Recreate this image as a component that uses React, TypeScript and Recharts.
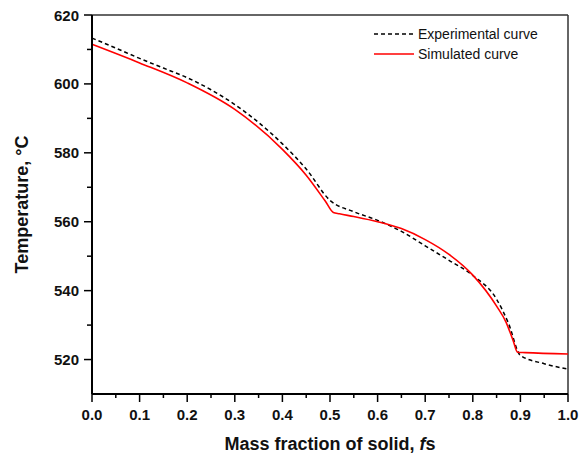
import { LineChart, Line, XAxis, YAxis, ReferenceLine, Legend } from 'recharts'

// experimental cooling curve (dashed)
const expFrac = [0, 0.05, 0.1, 0.15, 0.2, 0.25, 0.3, 0.35, 0.4, 0.45, 0.5, 0.55, 0.6, 0.65, 0.7, 0.75, 0.8, 0.85, 0.875, 0.9, 0.95, 1.0]
const expTemp = [613.3, 610.4, 607.4, 604.6, 601.8, 598.3, 594.0, 588.8, 582.6, 575.3, 566.2, 562.9, 560.4, 557.2, 553.0, 548.8, 544.4, 537.5, 530.5, 521.2, 518.8, 517.2]

// simulated curve (red)
const simFrac = [0, 0.1, 0.2, 0.3, 0.4, 0.45, 0.49, 0.507, 0.52, 0.55, 0.6, 0.65, 0.7, 0.75, 0.8, 0.85, 0.87, 0.885, 0.894, 0.91, 1.0]
const simTemp = [611.5, 606.1, 600.3, 592.6, 581.0, 573.5, 566.0, 562.7, 562.3, 561.5, 560.0, 558.0, 554.8, 550.5, 544.5, 535.5, 530.8, 525.4, 522.1, 522.0, 521.6]

const xTicks = [0, 0.05, 0.1, 0.15, 0.2, 0.25, 0.3, 0.35, 0.4, 0.45, 0.5, 0.55, 0.6, 0.65, 0.7, 0.75, 0.8, 0.85, 0.9, 0.95, 1.0]
const yTicks = [520, 530, 540, 550, 560, 570, 580, 590, 600, 610, 620]

const expData = expFrac.map((f, i) => ({ f, t: expTemp[i] }))
const simData = simFrac.map((f, i) => ({ f, t: simTemp[i] }))

const font = 'Arial, "Liberation Sans", sans-serif'

function XTick({ x, y, payload }: any) {
  const v = payload.value
  const major = Math.round(v * 100) % 10 === 0
  return (
    <g>
      <line x1={x} y1={y} x2={x} y2={y + (major ? 8 : 4)} stroke="#000" strokeWidth={1.5} />
      {major && (
        <text x={x} y={y + 26} textAnchor="middle" fontSize={15} fontWeight="bold" fontFamily={font} fill="#111">
          {v.toFixed(1)}
        </text>
      )}
    </g>
  )
}

function YTick({ x, y, payload }: any) {
  const v = payload.value
  const major = (v - 520) % 20 === 0
  return (
    <g>
      <line x1={x - (major ? 8 : 5)} y1={y} x2={x} y2={y} stroke="#000" strokeWidth={1.5} />
      {major && (
        <text x={x - 13} y={y + 5.5} textAnchor="end" fontSize={15} fontWeight="bold" fontFamily={font} fill="#111">
          {v}
        </text>
      )}
    </g>
  )
}

function LegendBox() {
  const row = (dash: string | undefined, color: string, label: string) => (
    <div style={{ display: 'flex', alignItems: 'center', height: 20 }}>
      <svg width={42} height={10} style={{ marginRight: 3 }}>
        <line x1={1} y1={5} x2={41} y2={5} stroke={color} strokeWidth={1.5} strokeDasharray={dash} />
      </svg>
      <span>{label}</span>
    </div>
  )
  return (
    <div style={{ fontFamily: font, fontSize: 14, color: '#111', lineHeight: '20px' }}>
      {row('4 3', '#000', 'Experimental curve')}
      {row(undefined, '#ff0000', 'Simulated curve')}
    </div>
  )
}

export default function App() {
  return (
    <div style={{ position: 'absolute', left: 0, top: 0, background: '#fff' }}>
      <LineChart width={582} height={457} margin={{ top: 15, right: 14, bottom: 0, left: 0 }}>
        <XAxis
          dataKey="f"
          type="number"
          domain={[0, 1]}
          ticks={xTicks}
          interval={0}
          height={63}
          tickSize={0}
          tickMargin={0}
          tickLine={false}
          axisLine={{ stroke: '#000', strokeWidth: 2 }}
          tick={<XTick />}
          label={{
            content: ({ viewBox }: any) => (
              <text
                x={viewBox.x + viewBox.width / 2}
                y={450}
                textAnchor="middle"
                fontSize={18}
                fontWeight="bold"
                fontFamily={font}
                fill="#111"
              >
                Mass fraction of solid, <tspan fontStyle="italic">f</tspan>s
              </text>
            ),
          }}
        />
        <YAxis
          dataKey="t"
          type="number"
          domain={[510, 620]}
          allowDataOverflow
          ticks={yTicks}
          interval={0}
          width={92}
          tickSize={0}
          tickMargin={0}
          tickLine={false}
          axisLine={{ stroke: '#000', strokeWidth: 2 }}
          tick={<YTick />}
          label={{
            content: ({ viewBox }: any) => (
              <text
                x={28}
                y={viewBox.y + viewBox.height / 2}
                transform={`rotate(-90, 28, ${viewBox.y + viewBox.height / 2})`}
                textAnchor="middle"
                fontSize={18}
                fontWeight="bold"
                fontFamily={font}
                fill="#111"
              >
                Temperature, °C
              </text>
            ),
          }}
        />
        <ReferenceLine y={620} stroke="#333" strokeWidth={1.5} />
        <ReferenceLine x={1} stroke="#333" strokeWidth={1.5} />
        <Line
          data={expData}
          dataKey="t"
          type="monotone"
          stroke="#000"
          strokeWidth={1.5}
          strokeDasharray="4 3"
          dot={false}
          isAnimationActive={false}
        />
        <Line
          data={simData}
          dataKey="t"
          type="monotone"
          stroke="#ff0000"
          strokeWidth={1.6}
          dot={false}
          isAnimationActive={false}
        />
        <Legend
          layout="horizontal"
          verticalAlign="middle"
          align="center"
          wrapperStyle={{ top: 24, left: 373, width: 200, height: 40 }}
          content={<LegendBox />}
        />
      </LineChart>
    </div>
  )
}
